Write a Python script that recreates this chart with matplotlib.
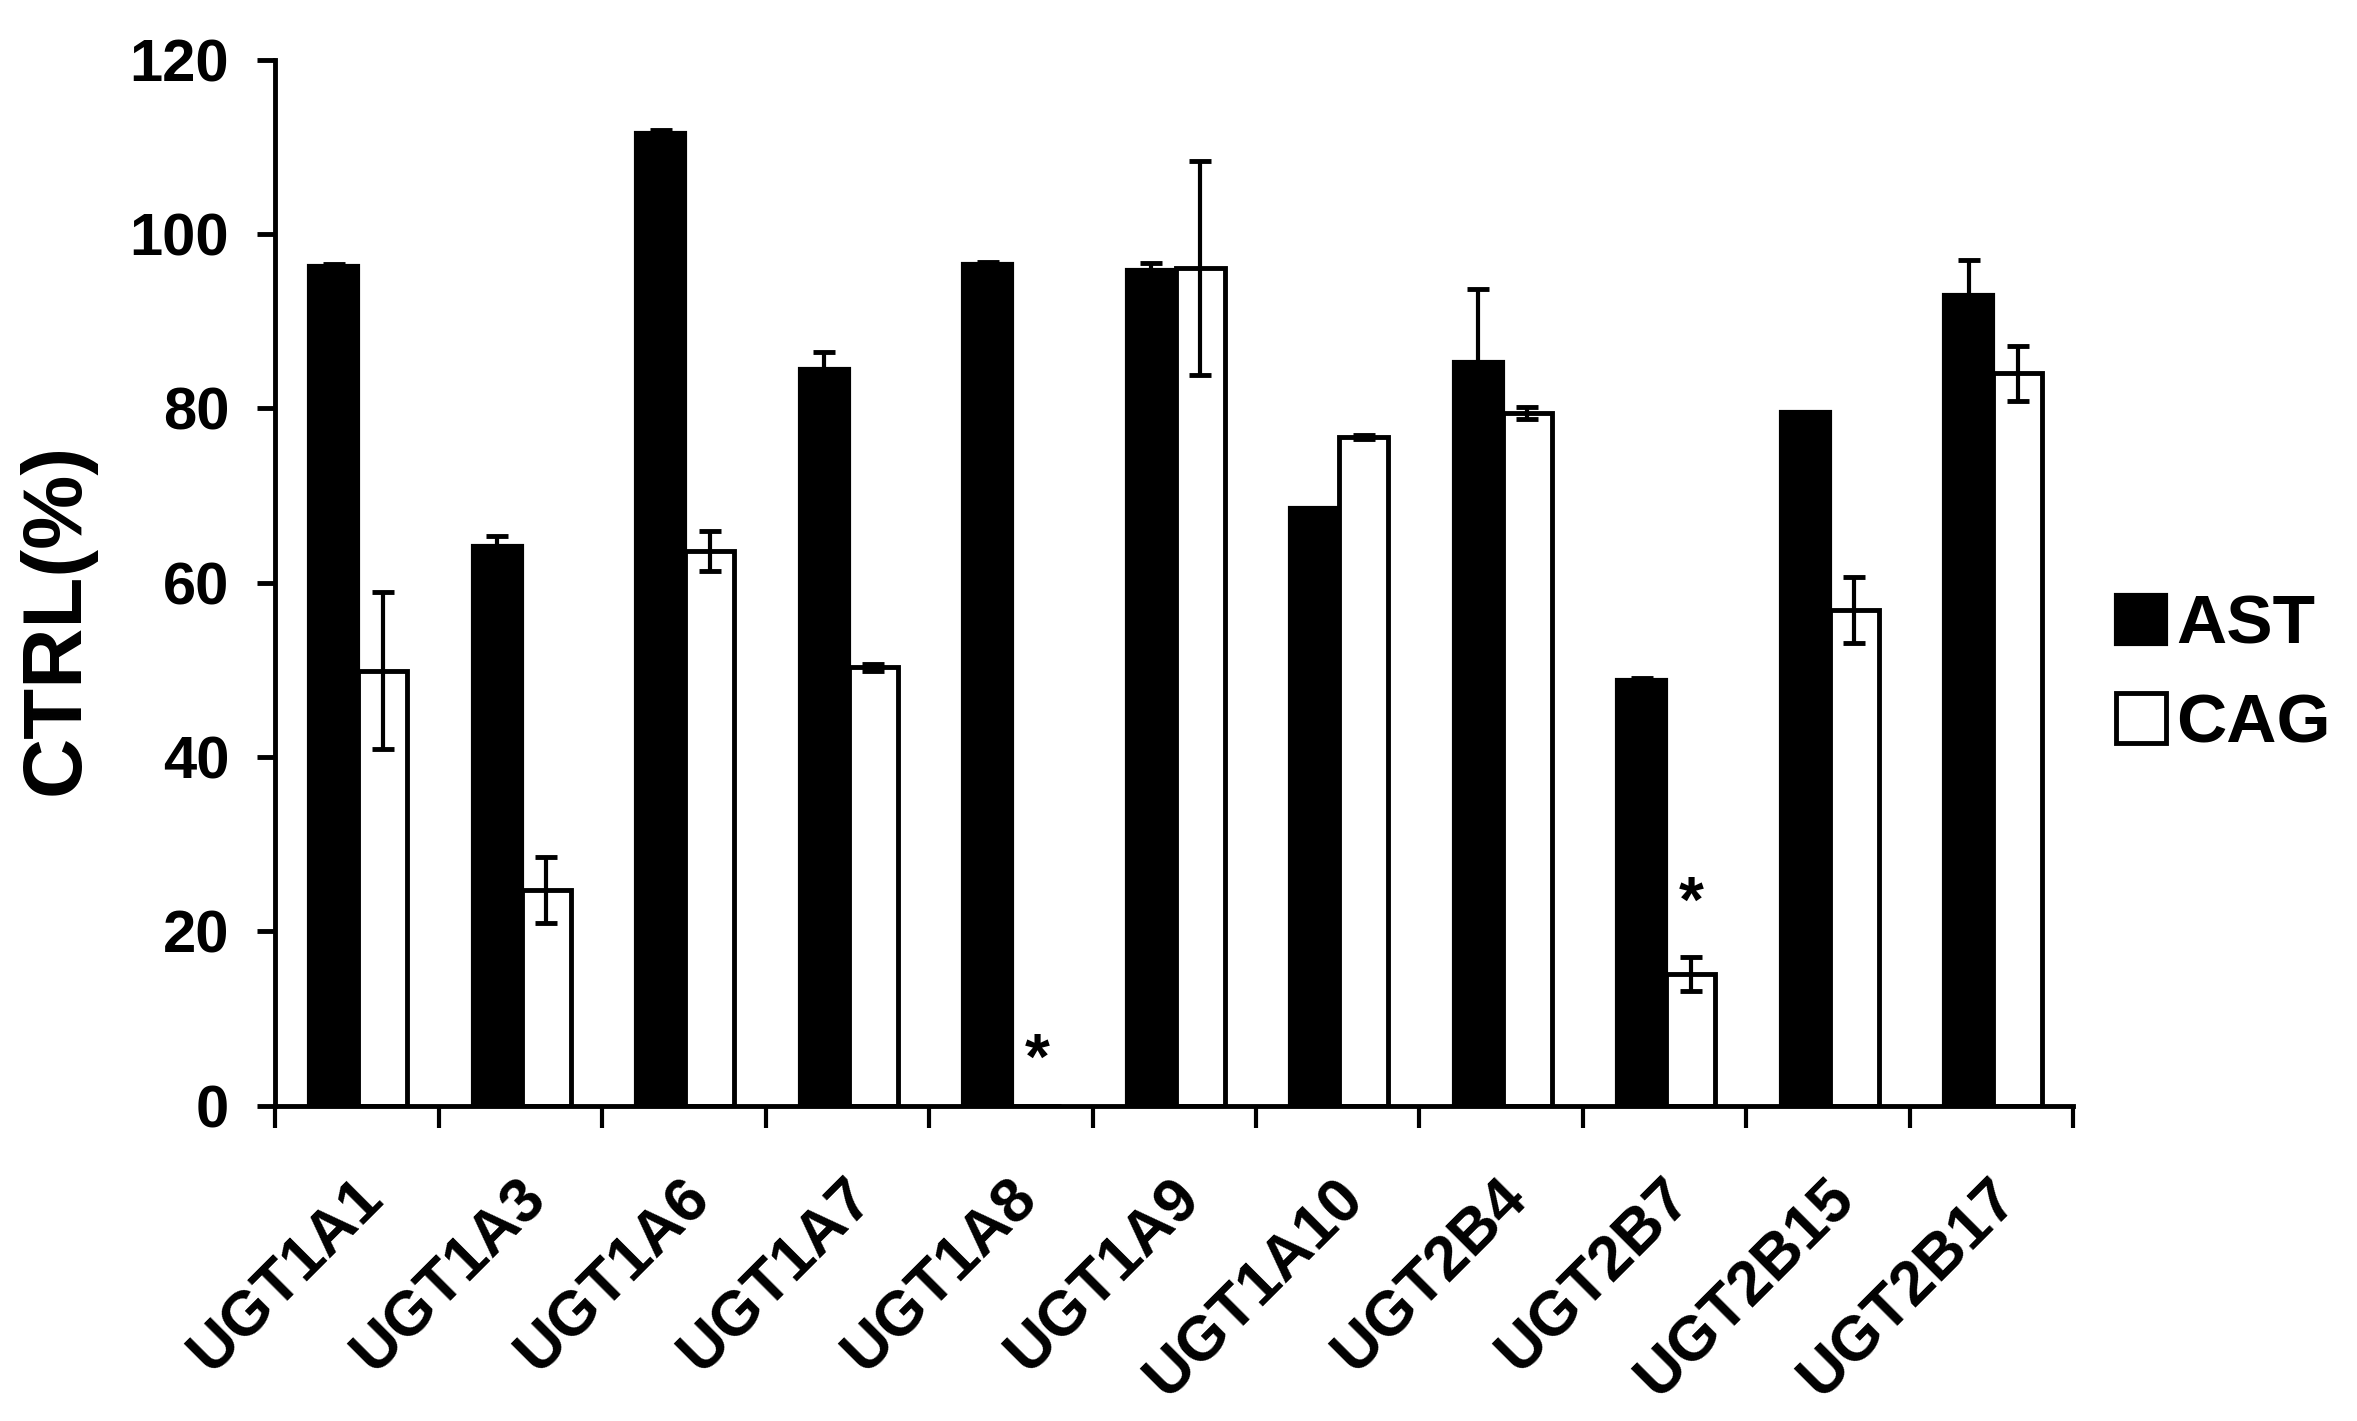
import numpy as np
import matplotlib.pyplot as plt
from matplotlib.patches import Patch

plt.rcParams['font.family'] = ['Liberation Sans', 'DejaVu Sans']
plt.rcParams['font.weight'] = 'bold'

# data
genes = ['UGT1A1', 'UGT1A3', 'UGT1A6', 'UGT1A7', 'UGT1A8', 'UGT1A9',
         'UGT1A10', 'UGT2B4', 'UGT2B7', 'UGT2B15', 'UGT2B17']
ast = [96.3, 64.2, 111.6, 84.5, 96.5, 95.9, 68.6, 85.3, 48.8, 79.6, 93.0]
ast_err = [0.3, 1.2, 0.3, 2.0, 0.3, 0.8, 0.0, 8.4, 0.3, 0.0, 4.0]
cag = [49.9, 24.7, 63.6, 50.3, 0.0, 96.1, 76.7, 79.5, 15.1, 56.9, 84.0]
cag_err = [9.0, 3.8, 2.3, 0.4, 0.0, 12.3, 0.2, 0.7, 2.0, 3.8, 3.2]
stars = {'UGT1A8': 5.0, 'UGT2B7': 23.0}

x = np.arange(len(genes))
w = 0.3

fig = plt.figure(figsize=(23.57, 14.21), dpi=100)
ax = fig.add_axes([0.1167, 0.222, 0.763, 0.736])

ax.bar(x - 0.14, ast, w, color='black', edgecolor='black', linewidth=3, label='AST', zorder=2)
ax.bar(x + 0.16, cag, w, color='white', edgecolor='black', linewidth=3.5, label='CAG', zorder=2)
ax.errorbar(x - 0.14, ast, yerr=ast_err, fmt='none', ecolor='black', elinewidth=3,
            capsize=8, capthick=3.5, zorder=3)
ax.errorbar(x + 0.16, cag, yerr=cag_err, fmt='none', ecolor='black', elinewidth=3,
            capsize=8, capthick=3.5, zorder=3)

for g, yv in stars.items():
    i = genes.index(g)
    ax.text(x[i] + 0.16, yv, '*', ha='center', va='center', fontsize=46, fontweight='bold')

ax.set_xlim(-0.5, len(genes) - 0.5)
ax.set_ylim(0, 120)
ax.set_yticks(np.arange(0, 121, 20))
ax.tick_params(axis='y', direction='out', length=13, width=3.5, labelsize=43, pad=20)

# tick marks between groups, labels under group centres
ax.set_xticks(np.arange(-0.5, len(genes), 1))
ax.set_xticklabels([])
ax.tick_params(axis='x', which='major', direction='out', length=16, width=3)
ax.set_xticks(x + 0.1, minor=True)
ax.set_xticklabels(genes, minor=True, rotation=45, ha='right', va='center',
                   rotation_mode='anchor', fontsize=45, fontweight='bold')
ax.tick_params(axis='x', which='minor', length=0, pad=60)

for s in ['top', 'right']:
    ax.spines[s].set_visible(False)
for s in ['left', 'bottom']:
    ax.spines[s].set_linewidth(3.5)

ax.set_ylabel('CTRL(%)', fontsize=60, fontweight='bold')
ax.yaxis.set_label_coords(-0.1, 0.465)

handles = [Patch(facecolor='black', edgecolor='black', linewidth=3),
           Patch(facecolor='white', edgecolor='black', linewidth=3.5)]
fig.legend(handles, ['AST', 'CAG'], loc='center left', bbox_to_anchor=(0.886, 0.525),
           frameon=False, fontsize=50, handlelength=0.72, handleheight=0.72,
           handletextpad=0.15, labelspacing=0.5, borderaxespad=0)

fig.savefig('out.png', dpi=100)
